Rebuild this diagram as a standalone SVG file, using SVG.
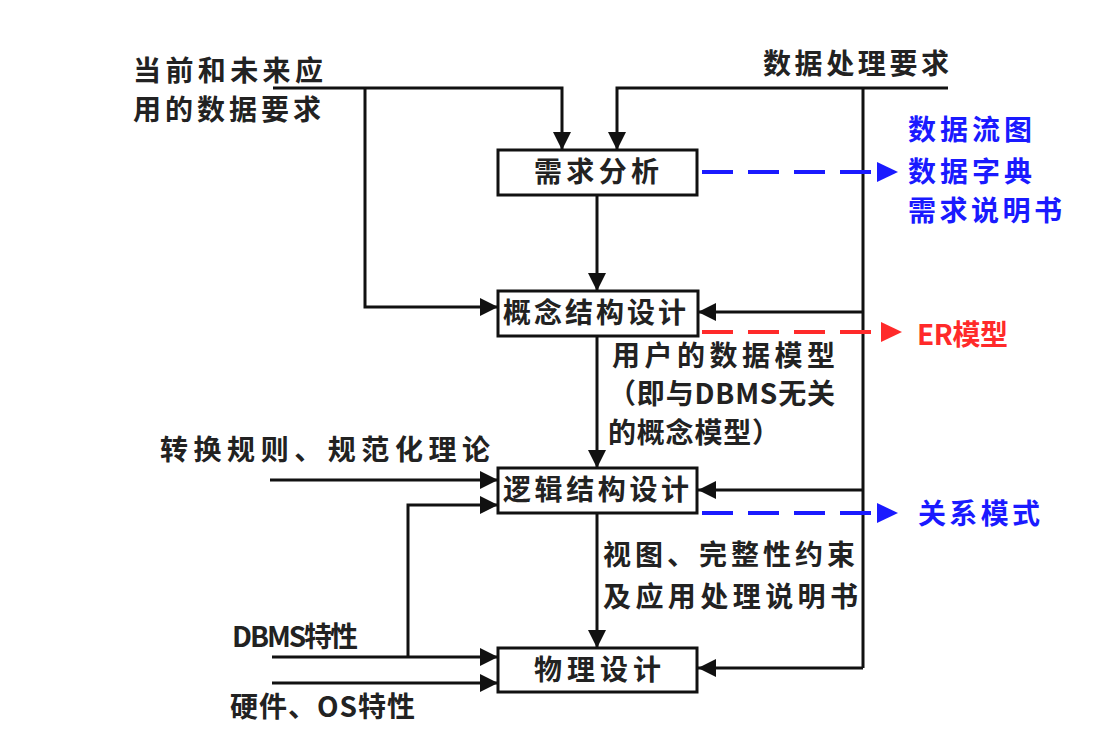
<svg xmlns="http://www.w3.org/2000/svg" width="1102" height="730" viewBox="0 0 1102 730">
<style>
text{font-family:"Noto Sans CJK SC","Noto Sans",sans-serif;font-size:28px;font-weight:bold;fill:#222}
.blue{fill:#1a1aff}
.red{fill:#ff2a2a}
.box{fill:#fff;stroke:#111;stroke-width:3}
.ln{fill:none;stroke:#111;stroke-width:3}
.db{fill:none;stroke:#1a1aff;stroke-width:4;stroke-dasharray:31 15}
.dr{fill:none;stroke:#ff2a2a;stroke-width:4;stroke-dasharray:31 15}
</style>
<defs>
<marker id="a" markerUnits="userSpaceOnUse" markerWidth="20" markerHeight="18" refX="18" refY="9" orient="auto"><path d="M0,0 L18,9 L0,18 Z" fill="#111"/></marker>
<marker id="ab" markerUnits="userSpaceOnUse" markerWidth="22" markerHeight="22" refX="0" refY="11" orient="auto"><path d="M0,1 L21,11 L0,21 Z" fill="#1a1aff"/></marker>
<marker id="ar" markerUnits="userSpaceOnUse" markerWidth="22" markerHeight="22" refX="0" refY="11" orient="auto"><path d="M0,1 L21,11 L0,21 Z" fill="#ff2a2a"/></marker>
</defs>
<rect width="1102" height="730" fill="#fff"/>
<g id="connectors">
<path class="ln" d="M273,88 H562 V150" marker-end="url(#a)"/>
<path class="ln" d="M365,88 V307 H498" marker-end="url(#a)"/>
<path class="ln" d="M948,88 H617 V150" marker-end="url(#a)"/>
<path class="ln" d="M863,88 V668"/>
<path class="ln" d="M863,312 H698" marker-end="url(#a)"/>
<path class="ln" d="M863,490 H698" marker-end="url(#a)"/>
<path class="ln" d="M863,668 H698" marker-end="url(#a)"/>
<path class="ln" d="M597,195 V291" marker-end="url(#a)"/>
<path class="ln" d="M597,336 V468" marker-end="url(#a)"/>
<path class="ln" d="M597,513 V648" marker-end="url(#a)"/>
<path class="ln" d="M270,480 H498" marker-end="url(#a)"/>
<path class="ln" d="M272,657 H498" marker-end="url(#a)"/>
<path class="ln" d="M408,657 V505 H498" marker-end="url(#a)"/>
<path class="ln" d="M272,683 H498" marker-end="url(#a)"/>
<path class="db" d="M702,172 H877" marker-end="url(#ab)"/>
<path class="dr" d="M702,332 H881" marker-end="url(#ar)"/>
<path class="db" d="M702,513 H877" marker-end="url(#ab)"/>
</g>
<g id="n1"><rect class="box" x="498" y="150" width="199" height="45"/><text x="534" y="182" textLength="125">需求分析</text></g>
<g id="n2"><rect class="box" x="498" y="291" width="200" height="45"/><text x="503" y="323" textLength="183">概念结构设计</text></g>
<g id="n3"><rect class="box" x="498" y="468" width="199" height="45"/><text x="503" y="500" textLength="186">逻辑结构设计</text></g>
<g id="n4"><rect class="box" x="498" y="648" width="199" height="44"/><text x="534" y="680" textLength="127">物理设计</text></g>
<g id="labels">
<text x="133" y="81" textLength="190">当前和未来应</text>
<text x="133" y="120" textLength="188">用的数据要求</text>
<text x="763" y="74" textLength="186">数据处理要求</text>
<text class="blue" x="908" y="140" textLength="124">数据流图</text>
<text class="blue" x="908" y="182" textLength="124">数据字典</text>
<text class="blue" x="908" y="221" textLength="154">需求说明书</text>
<text class="red" x="917" y="345" textLength="91">ER模型</text>
<text x="612" y="366" textLength="223">用户的数据模型</text>
<text x="608" y="404" textLength="227">（即与DBMS无关</text>
<text x="608" y="443" textLength="172">的概念模型）</text>
<text x="160" y="460" textLength="330">转换规则、规范化理论</text>
<text class="blue" x="918" y="524" textLength="122">关系模式</text>
<text x="603" y="565" textLength="252">视图、完整性约束</text>
<text x="603" y="607" textLength="255">及应用处理说明书</text>
<text x="232" y="647" textLength="126">DBMS特性</text>
<text x="230" y="717" textLength="185">硬件、OS特性</text>
</g>
</svg>
